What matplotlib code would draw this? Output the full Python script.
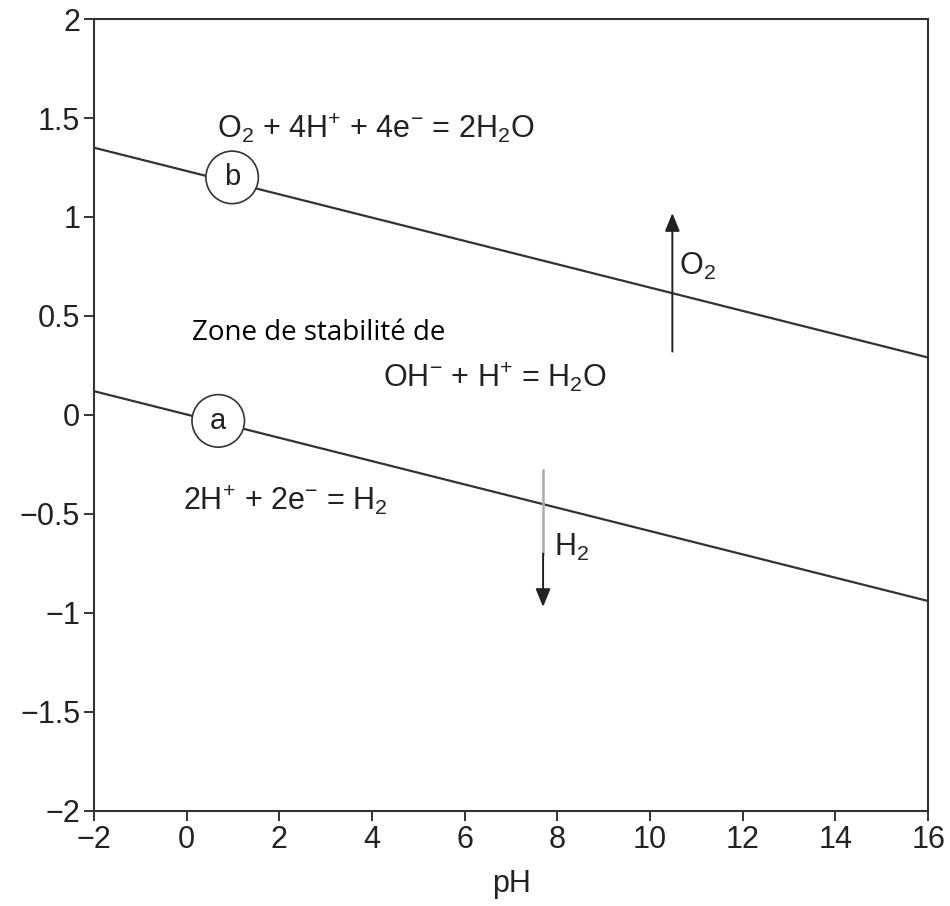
import matplotlib
matplotlib.use("Agg")
import matplotlib.pyplot as plt
from matplotlib import font_manager

names = {f.name for f in font_manager.fontManager.ttflist}
narrow = 'Liberation Sans Narrow' if 'Liberation Sans Narrow' in names else 'Liberation Sans'

plt.rcParams['font.family'] = ['Liberation Sans', 'DejaVu Sans']
plt.rcParams['mathtext.fontset'] = 'custom'
plt.rcParams['mathtext.rm'] = 'Liberation Sans'
plt.rcParams['mathtext.it'] = 'Liberation Sans'
plt.rcParams['axes.unicode_minus'] = True

# Data
ph_ends = [-2, 16]
E_a = [0.12, -0.94]   # 2H+ + 2e- = H2
E_b = [1.35, 0.29]    # O2 + 4H+ + 4e- = 2H2O
xticks = [-2, 0, 2, 4, 6, 8, 10, 12, 14, 16]
yticks = [-2, -1.5, -1, -0.5, 0, 0.5, 1, 1.5, 2]
ytick_labels = ['−2', '−1.5', '−1', '−0.5', '0', '0.5', '1', '1.5', '2']
xtick_labels = ['−2', '0', '2', '4', '6', '8', '10', '12', '14', '16']

fig = plt.figure(figsize=(9.5, 9.06), dpi=100)
ax = fig.add_axes([0.099, 0.105, 0.878, 0.874])
ax.set_xlim(-2, 16)
ax.set_ylim(-2, 2)

lc = '#333333'
ax.plot(ph_ends, E_a, color=lc, lw=1.6, zorder=2)
ax.plot(ph_ends, E_b, color=lc, lw=1.6, zorder=2)

for s in ax.spines.values():
    s.set_color(lc)
    s.set_linewidth(1.5)

ax.set_xticks(xticks)
ax.set_xticklabels(xtick_labels)
ax.set_yticks(yticks)
ax.set_yticklabels(ytick_labels)
ax.tick_params(direction='out', length=7, width=1.4, color=lc, labelsize=22,
               labelcolor='#222222', pad=3)
for lab in ax.get_xticklabels() + ax.get_yticklabels():
    lab.set_family([narrow, 'DejaVu Sans'])
ax.set_xlabel('pH', fontsize=22, color='#222222', labelpad=10, family=[narrow, 'DejaVu Sans'])

# circle labels
circ = dict(boxstyle='circle,pad=0.42', fc='white', ec=lc, lw=1.2)
ax.text(0.98, 1.20, 'b', fontsize=21, ha='center', va='center', bbox=circ, zorder=5, color='#222222')
ax.text(0.68, -0.03, 'a', fontsize=21, ha='center', va='center', bbox=circ, zorder=5, color='#222222')

tc = '#222222'
fs = 22
ax.text(0.65, 1.45, r'O$_2$ + 4H$^{+}$ + 4e$^{-}$ = 2H$_2$O', fontsize=fs, ha='left', va='center', color=tc)
ax.text(0.12, 0.38, 'Zone de stabilité de', fontsize=20, ha='left', va='baseline',
        color='black', family=['Open Sans', 'DejaVu Sans'])
ax.text(4.24, 0.19, r'OH$^{-}$ + H$^{+}$ = H$_2$O', fontsize=fs, ha='left', va='center', color=tc)
ax.text(-0.08, -0.43, r'2H$^{+}$ + 2e$^{-}$ = H$_2$', fontsize=fs, ha='left', va='center', color=tc)

# arrows
ahead = '-|>,head_length=1.1,head_width=0.45'
ax.annotate('', xy=(10.48, 1.02), xytext=(10.48, 0.32),
            arrowprops=dict(arrowstyle=ahead, color='#222222', lw=1.4, shrinkA=0, shrinkB=0))
ax.text(10.62, 0.75, r'O$_2$', fontsize=fs, ha='left', va='center', color=tc)

ax.plot([7.69, 7.69], [-0.28, -0.70], color='#aaaaaa', lw=1.8, zorder=3)
ax.annotate('', xy=(7.69, -0.97), xytext=(7.69, -0.70),
            arrowprops=dict(arrowstyle=ahead, color='#222222', lw=1.4, shrinkA=0, shrinkB=0))
ax.text(7.92, -0.67, r'H$_2$', fontsize=fs, ha='left', va='center', color=tc)

fig.savefig('out.png', dpi=100)
